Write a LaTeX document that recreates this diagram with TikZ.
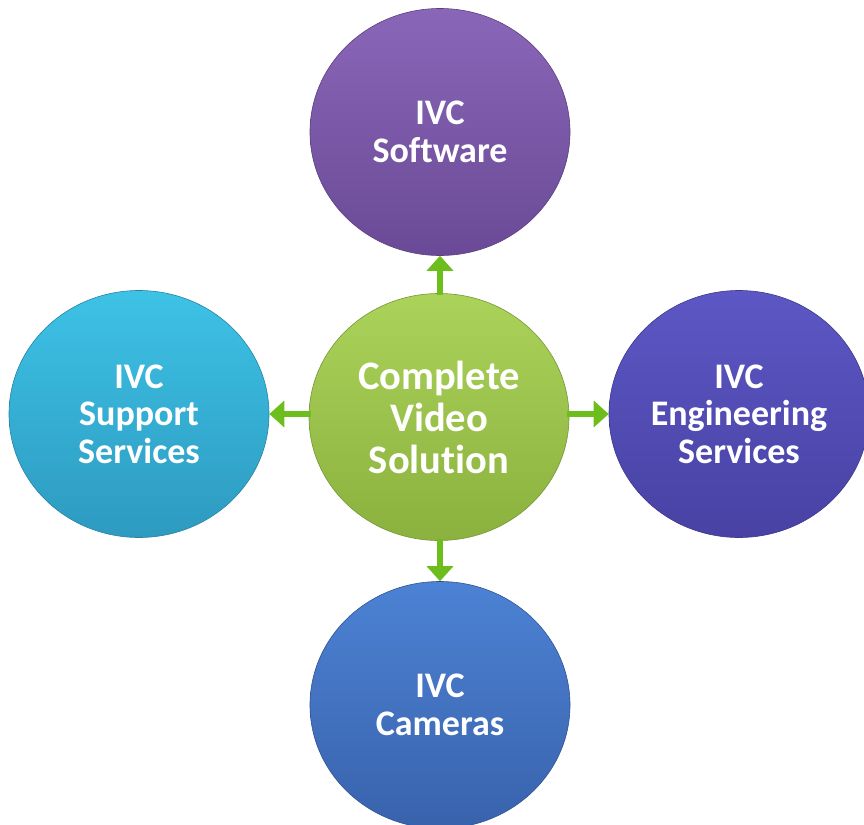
\documentclass[tikz,border=0pt]{standalone}
\usepackage{fontspec}
\setmainfont{Carlito}[Ligatures={NoCommon,NoDiscretionary}]
\usetikzlibrary{shapes.geometric,arrows.meta}
\definecolor{purT}{HTML}{8A66B8}
\definecolor{purB}{HTML}{6A4A96}
\definecolor{grnT}{HTML}{ABD35A}
\definecolor{grnB}{HTML}{8BB13E}
\definecolor{cyaT}{HTML}{3DC2E6}
\definecolor{cyaB}{HTML}{2E9AC0}
\definecolor{indT}{HTML}{5C57C4}
\definecolor{indB}{HTML}{4842A4}
\definecolor{bluT}{HTML}{4C82D4}
\definecolor{bluB}{HTML}{3962AC}
\definecolor{arr}{HTML}{6DBE1C}
\tikzset{
  bubble/.style={ellipse, minimum width=260pt, minimum height=247pt, inner sep=0pt,
    align=center, text=white, font=\bfseries\fontsize{36}{37.5}\selectfont},
  link/.style={draw=arr, line width=6pt, -{Triangle[width=26pt,length=15pt]}, shorten <=-2pt}
}
\begin{document}
\begin{tikzpicture}[x=1pt,y=-1pt]
\useasboundingbox (0,0) rectangle (864,824);
\node[bubble, top color=purT, bottom color=purB, draw=purB!85!black, line width=0.6pt] (sw) at (440,132) {IVC\\Software};
\node[bubble, top color=cyaT, bottom color=cyaB, draw=cyaB!85!black, line width=0.6pt] (sup) at (139,414) {IVC\\Support\\Services};
\node[bubble, top color=indT, bottom color=indB, draw=indB!85!black, line width=0.6pt] (eng) at (739,414) {IVC\\Engineering\\Services};
\node[bubble, top color=bluT, bottom color=bluB, draw=bluB!85!black, line width=0.6pt] (cam) at (440,705) {IVC\\Cameras};
\node[bubble, top color=grnT, bottom color=grnB, draw=grnB!85!black, line width=0.6pt,
  font=\bfseries\fontsize{40.5}{42}\selectfont] (core) at (439,417) {Complete\\Video\\Solution};
\begin{scope}[on background layer/.try]
\end{scope}
\draw[link] (sw.south |- core.north) -- (sw.south);
\draw[link] (core.west |- sup.east) -- (sup.east);
\draw[link] (core.east |- eng.west) -- (eng.west);
\draw[link] (cam.north |- core.south) -- (cam.north);
\end{tikzpicture}
\end{document}
